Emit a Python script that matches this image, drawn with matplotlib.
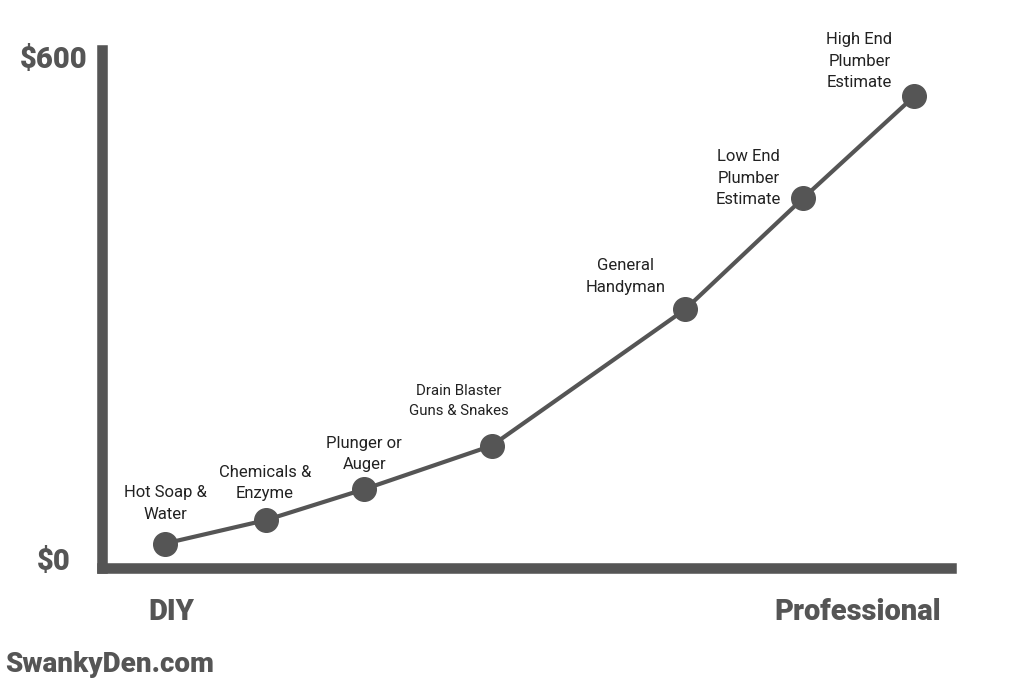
import matplotlib.pyplot as plt
from matplotlib.transforms import blended_transform_factory

# approach labels, cost estimate in dollars, and position along the DIY -> Pro axis (0-100)
labels = [
    "Hot Soap &\nWater",
    "Chemicals &\nEnzyme",
    "Plunger or\nAuger",
    "Drain Blaster\nGuns & Snakes",
    "General\nHandyman",
    "Low End\nPlumber\nEstimate",
    "High End\nPlumber\nEstimate",
]
costs = [22, 50, 87, 139, 302, 435, 557]
positions = [7.4, 19.3, 30.9, 45.9, 68.7, 82.6, 95.7]
y_ticks = [0, 600]
y_tick_labels = ["$0", "$600"]

# label offsets (pixels) from the point
offsets = [(1, 40), (-1, 37), (0, 35), (-33, 45), (-60, 33), (-55, 20), (-55, 35)]
sizes = [12, 12, 12, 10.8, 12, 12, 12]

grey = "#555555"
plt.rcParams["font.family"] = ["Roboto", "DejaVu Sans"]

fig = plt.figure(figsize=(10.24, 6.83), dpi=100)
ax = fig.add_axes([0.0996, 0.1684, 0.9287 - 0.0996, 0.9268 - 0.1684])

ax.plot(positions, costs, color=grey, lw=3, marker="o", markersize=17,
        solid_capstyle="round", zorder=3)

for x, y, lab, (dx, dy), fs in zip(positions, costs, labels, offsets, sizes):
    ax.annotate(lab, xy=(x, y), xytext=(dx, dy), textcoords="offset pixels",
                ha="center", va="center", fontsize=fs, color="#222222",
                linespacing=1.55)

ax.set_xlim(0, 100)
ax.set_ylim(-7.2, 612)

for side in ["top", "right"]:
    ax.spines[side].set_visible(False)
for side in ["left", "bottom"]:
    ax.spines[side].set_linewidth(7.6)
    ax.spines[side].set_color(grey)
    ax.spines[side].set_capstyle("projecting")
ax.set_xticks([])
ax.set_yticks([])

trans = blended_transform_factory(fig.transFigure, ax.transData)
for v, t in zip(y_ticks, y_tick_labels):
    ax.text(54 / 1024, v, t, transform=trans, ha="center", va="center",
            fontsize=21, fontweight="black", color=grey)

fig.text(171 / 1024, 1 - 612 / 683, "DIY", ha="center", va="center",
         fontsize=21, fontweight="black", color=grey)
fig.text(941 / 1024, 1 - 612 / 683, "Professional", ha="right", va="center",
         fontsize=21, fontweight="black", color=grey)
fig.text(5 / 1024, 1 - 664 / 683, "SwankyDen.com", ha="left", va="center",
         fontsize=20, fontweight="black", color=grey)

fig.savefig("out.png", dpi=100)
